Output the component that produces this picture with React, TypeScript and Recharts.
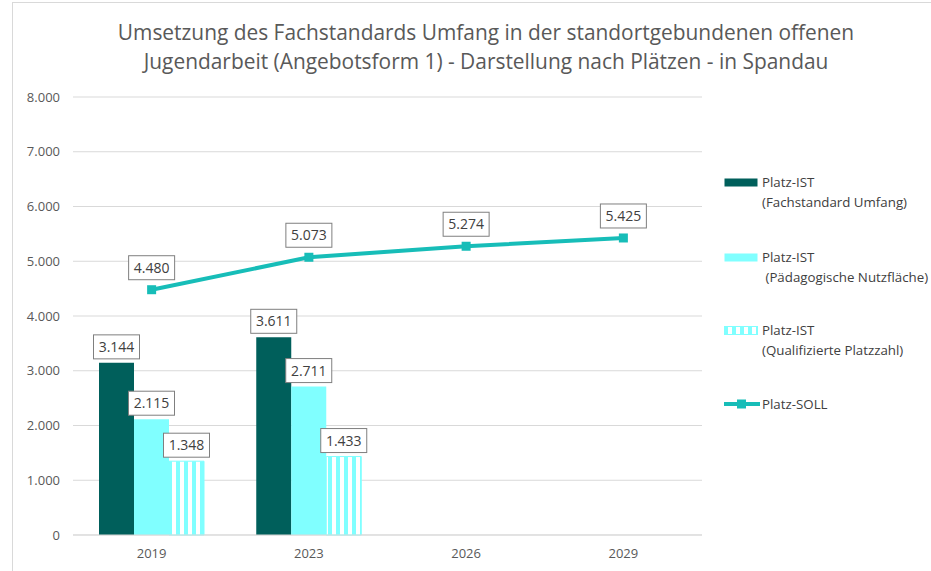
import React from 'react';
import { ComposedChart, Bar, Line, XAxis, YAxis, CartesianGrid, LabelList } from 'recharts';

const years = ['2019', '2023', '2026', '2029'];
const istUmfang = [3144, 3611, null, null];
const istNutzflaeche = [2115, 2711, null, null];
const istPlatzzahl = [1348, 1433, null, null];
const soll = [4480, 5073, 5274, 5425];
const yTicks = [0, 1000, 2000, 3000, 4000, 5000, 6000, 7000, 8000];

const DARK = '#005f5b';
const LIGHT = '#80ffff';
const LINE = '#17bdb8';
const FONT = '"Open Sans", sans-serif';

const data = years.map((year, i) => ({
  year,
  umfang: istUmfang[i],
  nutzflaeche: istNutzflaeche[i],
  platzzahl: istPlatzzahl[i],
  soll: soll[i],
}));

const fmt = (v: number) => String(v).replace(/\B(?=(\d{3})+(?!\d))/g, '.');

// boxed value label, sits above the mark
const BoxLabel = (gap: number) => (props: any) => {
  const { x, y, width, value } = props;
  if (value == null) return null;
  const cx = width ? x + width / 2 : x;
  const w = 46;
  const h = 24;
  const top = y - gap - h;
  return (
    <g>
      <rect x={cx - w / 2} y={top} width={w} height={h} fill="#fff" stroke="#7f7f7f" strokeWidth={1} />
      <text x={cx} y={top + h / 2 + 5} textAnchor="middle" fontSize={14} fill="#404040" fontFamily={FONT}>
        {fmt(value)}
      </text>
    </g>
  );
};

const Swatch = ({ kind }: { kind: string }) => {
  if (kind === 'line') {
    return (
      <svg width={36} height={12} style={{ display: 'block' }}>
        <line x1={0} y1={6} x2={36} y2={6} stroke={LINE} strokeWidth={4} />
        <rect x={13} y={1.5} width={9} height={9} fill={LINE} />
      </svg>
    );
  }
  return (
    <svg width={34} height={9} style={{ display: 'block' }}>
      <rect
        x={0.5}
        y={0.5}
        width={33}
        height={8}
        fill={kind === 'dark' ? DARK : kind === 'light' ? LIGHT : 'url(#stripes)'}
        stroke={kind === 'stripe' ? LIGHT : 'none'}
      />
    </svg>
  );
};

const legendItems = [
  { kind: 'dark', lines: ['Platz-IST', '(Fachstandard Umfang)'], top: 0 },
  { kind: 'light', lines: ['Platz-IST', '\u00a0(Pädagogische Nutzfläche)'], top: 75 },
  { kind: 'stripe', lines: ['Platz-IST', '(Qualifizierte Platzzahl)'], top: 148 },
  { kind: 'line', lines: ['Platz-SOLL'], top: 222 },
];

const ChartLegend = () => (
  <div
    style={{
      position: 'absolute',
      left: 724,
      top: 172,
      width: 240,
      height: 260,
      fontFamily: FONT,
      fontSize: 13.3,
      color: '#404040',
    }}
  >
    {legendItems.map((it) => (
      <div key={it.kind} style={{ position: 'absolute', left: 0, top: it.top, display: 'flex' }}>
        <div style={{ width: 38, paddingTop: it.kind === 'line' ? 4 : 6 }}>
          <Swatch kind={it.kind} />
        </div>
        <div style={{ lineHeight: '20px', whiteSpace: 'nowrap' }}>
          {it.lines.map((l, j) => (
            <div key={j}>{l}</div>
          ))}
        </div>
      </div>
    ))}
  </div>
);

export default function App() {
  return (
    <div style={{ position: 'absolute', left: 0, top: 0, width: 931, height: 571, background: '#fff', overflow: 'hidden' }}>
      <div
        style={{
          position: 'absolute',
          left: 12,
          top: 2,
          width: 940,
          height: 600,
          border: '1px solid #d9d9d9',
          boxSizing: 'border-box',
        }}
      />
      <div
        style={{
          position: 'absolute',
          left: 0,
          top: 18,
          width: 972,
          textAlign: 'center',
          fontFamily: FONT,
          fontSize: 20.9,
          lineHeight: '29px',
          color: '#595959',
        }}
      >
        <div>Umsetzung des Fachstandards Umfang in der standortgebundenen offenen</div>
        <div>Jugendarbeit (Angebotsform 1) - Darstellung nach Plätzen - in Spandau</div>
      </div>
      <ComposedChart
        width={931}
        height={571}
        data={data}
        margin={{ top: 97, right: 229, bottom: 6, left: 0 }}
        barGap={0}
        style={{ position: 'absolute', left: 0, top: 0 }}
      >
        <defs>
          <pattern id="stripes" width={8} height={10} patternUnits="userSpaceOnUse">
            <rect x={0} y={0} width={8} height={10} fill="#fff" />
            <rect x={0} y={0} width={4} height={10} fill={LIGHT} />
          </pattern>
        </defs>
        <CartesianGrid vertical={false} stroke="#d9d9d9" />
        <XAxis
          dataKey="year"
          height={30}
          axisLine={{ stroke: '#d9d9d9' }}
          tickLine={false}
          tick={{ fontSize: 13, fill: '#595959', fontFamily: FONT }}
          tickMargin={8}
        />
        <YAxis
          width={73}
          domain={[0, 8000]}
          ticks={yTicks}
          tickFormatter={fmt}
          axisLine={false}
          tickLine={false}
          tickSize={0}
          tickMargin={13}
          tick={{ fontSize: 13, fill: '#595959', fontFamily: FONT }}
        />
        <Bar dataKey="umfang" fill={DARK} barSize={35} isAnimationActive={false}>
          <LabelList dataKey="umfang" content={BoxLabel(4)} />
        </Bar>
        <Bar dataKey="nutzflaeche" fill={LIGHT} barSize={35} isAnimationActive={false}>
          <LabelList dataKey="nutzflaeche" content={BoxLabel(4)} />
        </Bar>
        <Bar dataKey="platzzahl" fill="url(#stripes)" stroke={LIGHT} strokeWidth={1} barSize={35} isAnimationActive={false}>
          <LabelList dataKey="platzzahl" content={BoxLabel(4)} />
        </Bar>
        <Line
          dataKey="soll"
          stroke={LINE}
          strokeWidth={4}
          dot={(p: any) => <rect key={p.index} x={p.cx - 4.5} y={p.cy - 4.5} width={9} height={9} fill={LINE} />}
          activeDot={false}
          isAnimationActive={false}
        >
          <LabelList dataKey="soll" content={BoxLabel(10)} />
        </Line>
      </ComposedChart>
      <ChartLegend />
    </div>
  );
}
